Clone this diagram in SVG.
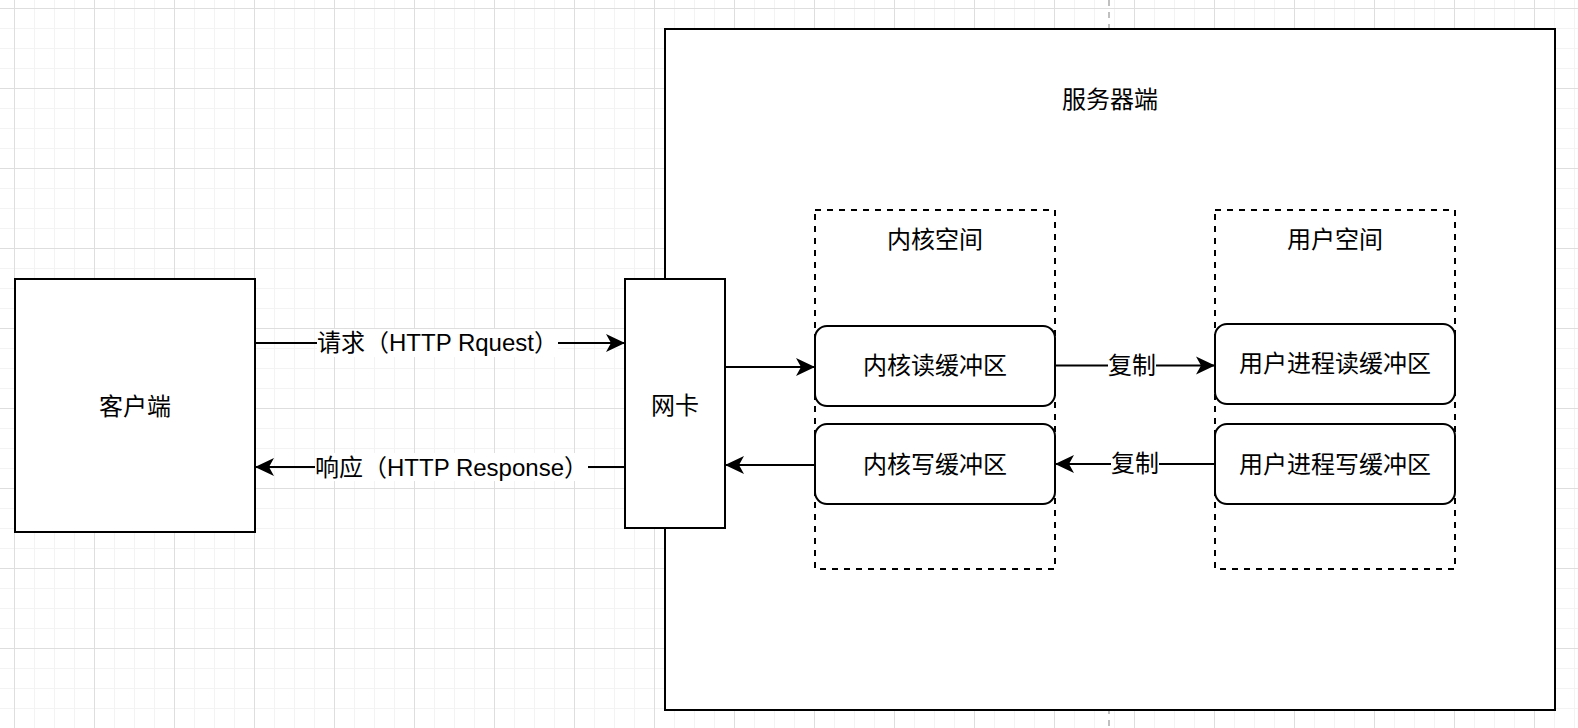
<svg xmlns="http://www.w3.org/2000/svg" width="1578" height="728" viewBox="0 0 1578 728">
<style>
text{font-family:"Liberation Sans","Noto Sans CJK SC",sans-serif;font-size:24px;fill:#000;text-anchor:middle}
.box{fill:#fff;stroke:#000;stroke-width:2}
.dash{fill:none;stroke:#000;stroke-width:2;stroke-dasharray:6 6}
.edge{fill:none;stroke:#000;stroke-width:2}
.lbl{fill:#fff}
</style>
<defs>
<pattern id="grid" x="14" y="8" width="80" height="80" patternUnits="userSpaceOnUse">
<path d="M20.5 0V80M40.5 0V80M60.5 0V80M0 20.5H80M0 40.5H80M0 60.5H80" stroke="#f3f3f3" stroke-width="1" fill="none"/>
<path d="M0.5 0V80M0 0.5H80" stroke="#dedede" stroke-width="1" fill="none"/>
</pattern>
<marker id="arr" viewBox="0 0 19 19" refX="18" refY="9.5" markerWidth="19" markerHeight="19" markerUnits="userSpaceOnUse" orient="auto">
<path d="M0 0.5L19 9.5L0 18.5L5 9.5Z" fill="#000"/>
</marker>
</defs>
<rect width="1578" height="728" fill="#fff"/>
<rect width="1578" height="728" fill="url(#grid)"/>
<path d="M1109 0V728" stroke="#c0c0c0" stroke-width="2" stroke-dasharray="6 6"/>

<g id="server">
<rect class="box" x="665" y="29" width="890" height="681"/>
<text x="1110" y="108">服务器端</text>
</g>
<g id="kernel-space">
<rect class="dash" x="815" y="210" width="240" height="359"/>
<text x="935" y="248">内核空间</text>
</g>
<g id="user-space">
<rect class="dash" x="1215" y="210" width="240" height="359"/>
<text x="1335" y="248">用户空间</text>
</g>
<g id="client">
<rect class="box" x="15" y="279" width="240" height="253"/>
<text x="135" y="415">客户端</text>
</g>
<g id="nic">
<rect class="box" x="625" y="279" width="100" height="249"/>
<text x="675" y="414">网卡</text>
</g>
<g id="kernel-read">
<rect class="box" x="815" y="326" width="240" height="80" rx="12"/>
<text x="935" y="374">内核读缓冲区</text>
</g>
<g id="kernel-write">
<rect class="box" x="815" y="424" width="240" height="80" rx="12"/>
<text x="935" y="473">内核写缓冲区</text>
</g>
<g id="user-read">
<rect class="box" x="1215" y="324" width="240" height="80" rx="12"/>
<text x="1335" y="372">用户进程读缓冲区</text>
</g>
<g id="user-write">
<rect class="box" x="1215" y="424" width="240" height="80" rx="12"/>
<text x="1335" y="473">用户进程写缓冲区</text>
</g>

<g id="connectors">
<path class="edge" d="M255 343H624" marker-end="url(#arr)"/>
<rect class="lbl" x="317" y="329" width="241" height="28"/>
<text x="437.5" y="351">请求（HTTP Rquest）</text>
<path class="edge" d="M625 467H256" marker-end="url(#arr)"/>
<rect class="lbl" x="315" y="453" width="273" height="28"/>
<text x="451.5" y="476">响应（HTTP Response）</text>
<path class="edge" d="M725 367H814" marker-end="url(#arr)"/>
<path class="edge" d="M815 465H726" marker-end="url(#arr)"/>
<path class="edge" d="M1055 365.5H1214" marker-end="url(#arr)"/>
<rect class="lbl" x="1108" y="352" width="48" height="28"/>
<text x="1132" y="374">复制</text>
<path class="edge" d="M1215 464H1056" marker-end="url(#arr)"/>
<rect class="lbl" x="1111" y="450" width="48" height="28"/>
<text x="1135" y="472">复制</text>
</g>
</svg>
